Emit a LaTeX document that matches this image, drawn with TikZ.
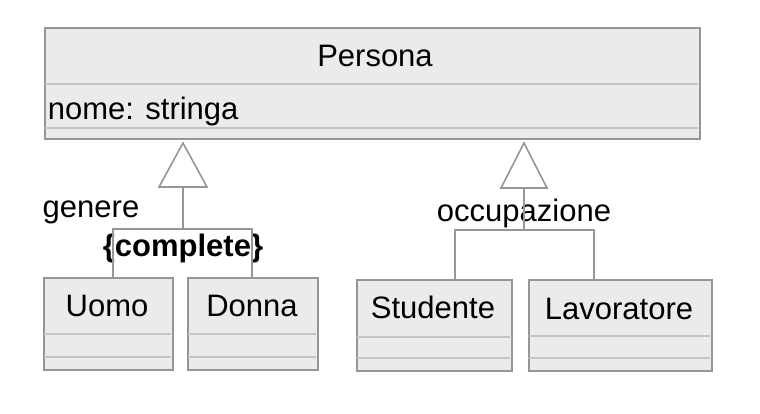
\documentclass[tikz,border=0pt]{standalone}
\usepackage{fontspec}
\setmainfont{Liberation Sans}

\definecolor{umlline}{RGB}{150,150,150}
\definecolor{umlsep}{RGB}{196,196,196}
\definecolor{umlfill}{RGB}{235,235,235}

\tikzset{every picture/.style={line width=1.6pt}}
\tikzset{
	classbox/.style={rectangle, draw=umlline, fill=umlfill, inner sep=0pt, anchor=north west},
	seprule/.style={draw=umlsep, line width=1.3pt},
	genline/.style={draw=umlline, line width=1.6pt},
	umltext/.style={font=\fontsize{31}{36}\selectfont, inner sep=0pt, anchor=base}
}

\begin{document}
\begin{tikzpicture}[x=1pt,y=1pt,yscale=-1,xscale=1]
		\useasboundingbox (0,0) rectangle (760,414);
		
		%Shape: Class Persona
		\node [classbox, minimum width=655pt, minimum height=111pt] (persona) at (44,27) {};
		\draw [seprule] (45,84) -- (698,84) ;
		\draw [seprule] (45,128) -- (698,128) ;
		
		%Shape: Class Uomo
		\node [classbox, minimum width=129pt, minimum height=92pt] (uomo) at (43,277) {};
		\draw [seprule] (44,334) -- (171,334) ;
		\draw [seprule] (44,357) -- (171,357) ;
		
		%Shape: Class Donna
		\node [classbox, minimum width=130pt, minimum height=92pt] (donna) at (187,277) {};
		\draw [seprule] (188,334) -- (316,334) ;
		\draw [seprule] (188,357) -- (316,357) ;
		
		%Shape: Class Studente
		\node [classbox, minimum width=155pt, minimum height=91pt] (studente) at (356,279) {};
		\draw [seprule] (357,337) -- (510,337) ;
		\draw [seprule] (357,358) -- (510,358) ;
		
		%Shape: Class Lavoratore
		\node [classbox, minimum width=183pt, minimum height=91pt] (lavoratore) at (528,279) {};
		\draw [seprule] (529,336) -- (710,336) ;
		\draw [seprule] (529,358) -- (710,358) ;
		
		% Text Node
		\node [umltext] (personaName) at (375,67) {Persona};
		% Text Node
		\node [umltext, anchor=base west] (personaAttr) at (47,120) {nome: stringa};
		% Text Node
		\node [umltext] (uomoName) at (107,316) {Uomo};
		% Text Node
		\node [umltext] (donnaName) at (252,316) {Donna};
		% Text Node
		\node [umltext] (studenteName) at (433,318) {Studente};
		% Text Node
		\node [umltext] (lavoratoreName) at (619,319) {Lavoratore};
		% Text Node
		\node [umltext] (genereLabel) at (91,218) {genere};
		% Text Node
		\node [umltext] (completeLabel) at (183,256) {\bfseries\{complete\}};
		% Text Node
		\node [umltext] (occupLabel) at (524,222) {occupazione};
		
		%Generalization genere
		\coordinate (genereTip) at (183,143);
		\coordinate (genereBase) at (183,187);
		\coordinate (genereJoin) at (183,229);
		\coordinate (uomoIn) at (113,277);
		\coordinate (donnaIn) at (252,277);
		\draw [genline] (genereTip) -- ++(-24,44) -- ++(48,0) -- cycle ;
		\draw [genline] (genereBase) -- (genereJoin) ;
		\draw [genline] (uomoIn) |- (genereJoin) -| (donnaIn) ;
		
		%Generalization occupazione
		\coordinate (occupTip) at (524,143);
		\coordinate (occupBase) at (524,188);
		\coordinate (occupJoin) at (524,230);
		\coordinate (studenteIn) at (455,279);
		\coordinate (lavoratoreIn) at (594,279);
		\draw [genline] (occupTip) -- ++(-23,45) -- ++(46,0) -- cycle ;
		\draw [genline] (occupBase) -- (occupJoin) ;
		\draw [genline] (studenteIn) |- (occupJoin) -| (lavoratoreIn) ;
		
\end{tikzpicture}
\end{document}
